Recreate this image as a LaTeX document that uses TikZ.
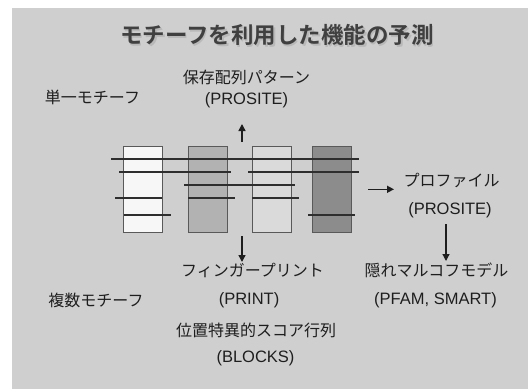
\documentclass[tikz,border=0pt]{standalone}
\usepackage{fontspec}
\setmainfont{Liberation Sans}
\newfontfamily\cjk{Noto Sans CJK JP}
\newfontfamily\cjkb{Noto Sans CJK JP Bold}
\usetikzlibrary{arrows.meta}
\definecolor{bg}{HTML}{CFCFCF}
\definecolor{ink}{HTML}{1E1E1E}
\definecolor{barline}{HTML}{2E2E2E}
\definecolor{c1}{HTML}{F7F7F7}
\definecolor{c2}{HTML}{B2B2B2}
\definecolor{c3}{HTML}{DADADA}
\definecolor{c4}{HTML}{8C8C8C}
\tikzset{
  jp/.style={font=\cjk\fontsize{16}{18}\selectfont, text=ink, inner sep=0pt, anchor=center},
  lat/.style={font=\fontsize{16.5}{18}\selectfont, text=ink, inner sep=0pt, anchor=center},
  bar/.style={draw=gray!70!black, line width=0.8pt, minimum width=39pt, minimum height=86pt, inner sep=0pt, anchor=north west},
  mline/.style={draw=barline, line width=2pt},
  arr/.style={draw=ink, line width=1.5pt, -{Triangle[length=7pt,width=7pt]}}
}
\begin{document}
\begin{tikzpicture}[x=1pt,y=-1pt]
\useasboundingbox (0,0) rectangle (528,389);
\fill[white] (0,0) rectangle (528,389);
\fill[bg] (12,8) rectangle (528,389);
% title
\node[font=\cjkb\fontsize{22.5}{24}\selectfont, text=gray!55, inner sep=0pt] at (278.5,36.5) {モチーフを利用した機能の予測};
\node (title) [font=\cjkb\fontsize{22.5}{24}\selectfont, text=ink!85, inner sep=0pt] at (277,35) {モチーフを利用した機能の予測};
% labels
\node (single) [jp] at (92.5,97) {単一モチーフ};
\node (multi) [jp] at (96,300) {複数モチーフ};
\node (cons) [jp] at (246.5,77) {保存配列パターン};
\node (prosite1) [lat] at (246.5,100) {(PROSITE)};
\node (prof) [jp] at (451.5,180) {プロファイル};
\node (prosite2) [lat] at (450,210) {(PROSITE)};
\node (finger) [jp] at (252.5,270) {フィンガープリント};
\node (print) [lat] at (249,300) {(PRINT)};
\node (pssm) [jp] at (256,330) {位置特異的スコア行列};
\node (blocks) [lat] at (255.5,358) {(BLOCKS)};
\node (hmm) [jp] at (436.5,270) {隠れマルコフモデル};
\node (pfam) [lat] at (435.5,300) {(PFAM, SMART)};
% bars
\node (b1) [bar, fill=c1] at (123.3,145.7) {};
\node (b2) [bar, fill=c2] at (187.7,145.7) {};
\node (b3) [bar, fill=c3] at (252.3,145.7) {};
\node (b4) [bar, fill=c4] at (312.3,145.7) {};
% motif lines
\draw[mline] (111,159) -- (359.3,159);
\draw[mline] (119.3,172) -- (230.7,172);
\draw[mline] (248.3,172) -- (359.3,172);
\draw[mline] (184.3,184.5) -- (295,184.5);
\draw[mline] (115,198) -- (162.3,198);
\draw[mline] (188.3,198) -- (235,198);
\draw[mline] (252.3,198) -- (299.3,198);
\draw[mline] (124,215) -- (170.7,215);
\draw[mline] (308.3,215) -- (355,215);
% arrows
\coordinate (upS) at (242,142);
\coordinate (upE) at (242,124);
\coordinate (dnS) at (242,236);
\coordinate (dnE) at (242,262);
\coordinate (rtS) at (368,189.3);
\coordinate (rtE) at (394,189.3);
\coordinate (pdS) at (446,224);
\coordinate (pdE) at (446,261);
\draw[arr] (upS) -- (upE);
\draw[arr] (dnS) -- (dnE);
\draw[arr] (rtS) -- (rtE);
\draw[arr, line width=1.2pt] (pdS) -- (pdE);
\end{tikzpicture}
\end{document}
